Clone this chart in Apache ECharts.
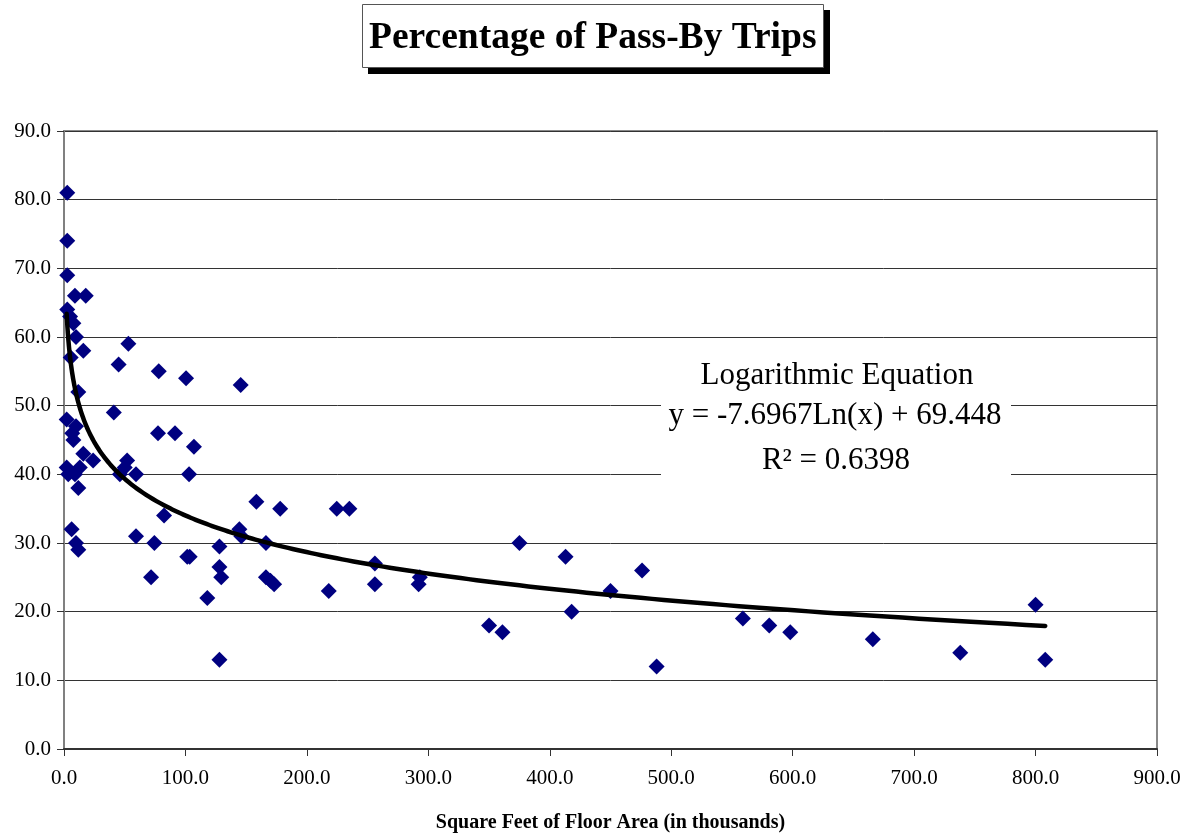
<!DOCTYPE html>
<html>
<head>
<meta charset="utf-8">
<script src="https://cdn.jsdelivr.net/npm/echarts@6/dist/echarts.min.js"></script>
<style>
html,body{margin:0;padding:0;background:#fff;}
#chart{width:1188px;height:835px;}
</style>
</head>
<body>
<div id="chart"></div>
<script>
// Square feet of floor area (thousands)
const floorArea = [
  2.7, 2.7, 2.7, 9, 17.9, 2.7, 5, 7.7, 9.9, 15.9,
  5.5, 53, 45, 78, 100.5, 145.5, 11.8, 41, 2.2, 9.9,
  6.8, 7.7, 77.4, 91.4, 107, 15.9, 24, 52, 50, 2.2,
  13, 3.5, 9, 46, 59.3, 103, 11.8, 158.4, 178, 224.6,
  235, 82.4, 6.3, 144.4, 146, 59.3, 9.9, 74.4, 166.3, 375,
  128, 11.8, 101.5, 103.5, 413, 256, 128, 476, 71.7, 129.5,
  166.3, 170, 173, 293, 256, 292, 218, 450, 118, 418,
  559, 350, 580.7, 361, 598, 666, 738, 128, 808, 488,
  800
];
// Percentage of pass-by trips
const passByPct = [
  81, 74, 69, 66, 66, 64, 63, 62, 60, 58,
  57, 59, 56, 55, 54, 53, 52, 49, 48, 47,
  46, 45, 46, 46, 44, 43, 42, 42, 41, 41,
  41, 40, 40, 40, 40, 40, 38, 36, 35, 35,
  35, 34, 32, 32, 31, 31, 30, 30, 30, 30,
  29.5, 29, 28, 28, 28, 27, 26.5, 26, 25, 25,
  25, 24.5, 24, 25, 24, 24, 23, 23, 22, 20,
  19, 18, 18, 17, 17, 16, 14, 13, 13, 12,
  21
];
// Fitted logarithmic trendline as stated on the chart
const trendSlope = -7.6967;
const trendIntercept = 69.448;
const trendStart = 2.2;
const trendEnd = 808;
const trendSteps = 300;

const xTicks = [0, 100, 200, 300, 400, 500, 600, 700, 800, 900];
const yTicks = [0, 10, 20, 30, 40, 50, 60, 70, 80, 90];

const scatterData = floorArea.map((x, i) => [x, passByPct[i]]);
const trendData = [];
for (let i = 0; i <= trendSteps; i++) {
  const x = trendStart * Math.pow(trendEnd / trendStart, i / trendSteps);
  trendData.push([x, trendSlope * Math.log(x) + trendIntercept]);
}

const serif = '"Liberation Serif", "Times New Roman", serif';
const chart = echarts.init(document.getElementById('chart'), null, {renderer: 'canvas'});
chart.setOption({
  animation: false,
  backgroundColor: '#fff',
  title: {
    text: 'Percentage of Pass-By Trips',
    left: 369,
    top: 19,
    padding: 0,
    z: 20,
    textStyle: {fontFamily: serif, fontWeight: 'bold', fontSize: 37.5, color: '#000'}
  },
  grid: {
    left: 64, right: 31, top: 131, bottom: 86,
    containLabel: false,
    outerBoundsMode: 'none',
    show: true, borderColor: '#888', borderWidth: 2, backgroundColor: 'transparent'
  },
  xAxis: {
    type: 'value',
    min: xTicks[0], max: xTicks[xTicks.length - 1], interval: 100,
    name: 'Square Feet of Floor Area (in thousands)',
    nameLocation: 'middle',
    nameGap: 64,
    nameTextStyle: {fontFamily: serif, fontWeight: 'bold', fontSize: 20, color: '#000'},
    axisLine: {show: true, lineStyle: {color: '#333', width: 2}},
    axisTick: {show: true, inside: false, length: 7, lineStyle: {color: '#333', width: 1}},
    axisLabel: {fontFamily: serif, fontSize: 21, color: '#000', margin: 19,
      formatter: v => v.toFixed(1)},
    splitLine: {show: false}
  },
  yAxis: {
    type: 'value',
    min: yTicks[0], max: yTicks[yTicks.length - 1], interval: 10,
    axisLine: {show: true, lineStyle: {color: '#808080', width: 2}},
    axisTick: {show: true, inside: false, length: 7, lineStyle: {color: '#333', width: 1}},
    axisLabel: {fontFamily: serif, fontSize: 21, color: '#000', margin: 13,
      formatter: v => v.toFixed(1)},
    splitLine: {show: true, lineStyle: {color: '#333', width: 1}}
  },
  graphic: [
    {type: 'rect', shape: {x: 368, y: 10, width: 462, height: 64}, style: {fill: '#000'}, z: 1},
    {type: 'rect', shape: {x: 362.5, y: 4.5, width: 461, height: 63}, style: {fill: '#fff', stroke: '#555', lineWidth: 1}, z: 2},
    {type: 'rect', shape: {x: 661, y: 352, width: 350, height: 132}, style: {fill: '#fff'}, z: 50},
    {type: 'text', x: 837, y: 376, z: 51,
      style: {text: 'Logarithmic Equation', fontFamily: serif, fontSize: 31, fill: '#000', align: 'center', verticalAlign: 'middle'}},
    {type: 'text', x: 835, y: 416, z: 51,
      style: {text: 'y = -7.6967Ln(x) + 69.448', fontFamily: serif, fontSize: 31, fill: '#000', align: 'center', verticalAlign: 'middle'}},
    {type: 'text', x: 836, y: 461, z: 51,
      style: {text: 'R\u00B2 = 0.6398', fontFamily: serif, fontSize: 31, fill: '#000', align: 'center', verticalAlign: 'middle'}}
  ],
  series: [
    {
      type: 'scatter',
      data: scatterData,
      symbol: 'diamond',
      symbolSize: 16,
      itemStyle: {color: '#000080', opacity: 1},
      z: 3
    },
    {
      type: 'line',
      data: trendData,
      showSymbol: false,
      symbol: 'none',
      smooth: false,
      lineStyle: {color: '#000', width: 4.5, cap: 'round', join: 'round'},
      z: 4
    }
  ]
});
</script>
</body>
</html>
